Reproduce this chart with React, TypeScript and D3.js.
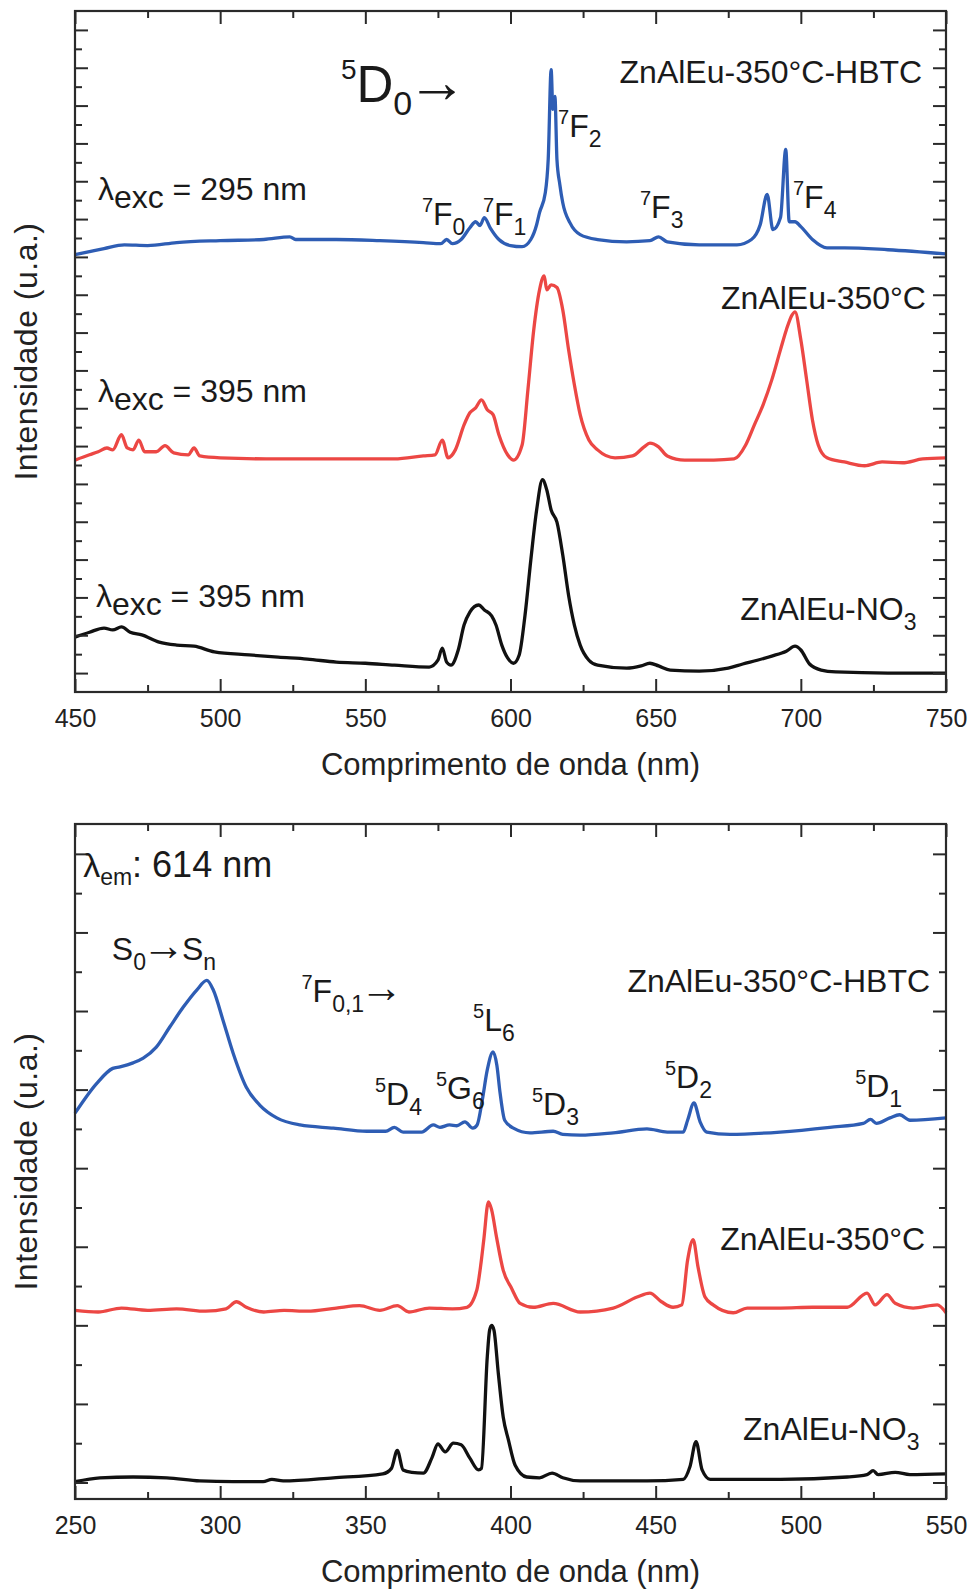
import React, { useEffect, useRef } from 'react';
import * as d3 from 'd3';

type Pt = [number, number];

// Emissão (λexc) — comprimento de onda (nm), intensidade deslocada (u.a.)
const emHbtc: Pt[] = [
  [450, 11.06], [455, 11.14], [460, 11.22], [467, 11.32], [475, 11.3], [485, 11.38], [500, 11.43],
  [515, 11.46], [524, 11.53], [526, 11.46], [540, 11.46], [555, 11.43], [570, 11.38], [576, 11.35],
  [578, 11.46], [580, 11.35], [583, 11.46], [586, 11.77], [588, 11.93], [589.5, 11.83], [591, 12.04],
  [593, 11.77], [596, 11.46], [600, 11.3], [604, 11.27], [607, 11.46], [609, 11.85], [610, 12.17],
  [612, 12.7], [613, 13.6], [614, 15.95], [614.6, 14.9], [615.3, 15.24], [616, 13.57], [617, 12.91],
  [618, 12.43], [620.5, 11.9], [624, 11.59], [630, 11.46], [640, 11.4], [648, 11.43], [651, 11.53],
  [654, 11.4], [665, 11.32], [678, 11.32], [683, 11.46], [686, 11.85], [688.4, 12.65], [690.4, 11.72],
  [693, 12.04], [694.8, 13.84], [696, 11.93], [698, 11.93], [700, 11.8], [704, 11.46], [709, 11.24],
  [715, 11.24], [730, 11.19], [750, 11.08],
];
const emCalc: Pt[] = [
  [450, 5.63], [455, 5.77], [458, 5.85], [461, 5.95], [463, 5.9], [466, 6.3], [468, 5.95], [470, 5.9],
  [472, 6.16], [474, 5.85], [478, 5.85], [481, 6.01], [484, 5.82], [489, 5.77], [491, 5.95], [493, 5.74],
  [500, 5.69], [520, 5.66], [540, 5.66], [560, 5.66], [570, 5.74], [574, 5.77], [576.5, 6.16],
  [578.5, 5.69], [581, 5.9], [584, 6.56], [586, 6.88], [588, 7.01], [590, 7.22], [592, 6.96], [594, 6.83],
  [596, 6.3], [599, 5.77], [601, 5.63], [604, 6.03], [606, 7.49], [608, 9.07], [610, 10.13],
  [611.6, 10.5], [612.5, 10.13], [614, 10.26], [616, 10.19], [618, 9.6], [620, 8.55], [622, 7.62],
  [624, 6.83], [627, 6.16], [630, 5.9], [636, 5.69], [642, 5.74], [646, 5.98], [648, 6.08], [651, 5.98],
  [654, 5.74], [660, 5.63], [670, 5.63], [677, 5.66], [681, 6.03], [684, 6.56], [687, 7.09], [690, 7.75],
  [693, 8.55], [695, 9.07], [697, 9.47], [698, 9.55], [700, 8.81], [702, 7.75], [704, 6.69], [706, 6.03],
  [709, 5.69], [715, 5.58], [722, 5.48], [728, 5.58], [735, 5.56], [742, 5.66], [750, 5.69],
];
const emNo3: Pt[] = [
  [450, 0.95], [455, 1.08], [460, 1.19], [463, 1.14], [466, 1.22], [469, 1.08], [473, 1.01], [479, 0.82],
  [485, 0.74], [491, 0.71], [498, 0.56], [510, 0.48], [520, 0.42], [530, 0.37], [540, 0.29], [550, 0.26],
  [560, 0.21], [572, 0.16], [575, 0.34], [576.5, 0.66], [578, 0.29], [579.5, 0.21], [582, 0.61],
  [584, 1.27], [586, 1.61], [589, 1.8], [591, 1.67], [593.5, 1.51], [595, 1.27], [597, 0.74], [599, 0.4],
  [601, 0.26], [603, 0.48], [605, 1.53], [607, 2.99], [609, 4.31], [611, 5.11], [612.5, 4.84],
  [614, 4.31], [616, 3.99], [618, 3.12], [620, 2.06], [622, 1.27], [624, 0.74], [627, 0.34], [630, 0.21],
  [640, 0.13], [645, 0.19], [648, 0.26], [651, 0.19], [655, 0.08], [665, 0.05], [675, 0.13], [680, 0.24],
  [685, 0.34], [690, 0.45], [695, 0.58], [698, 0.71], [700, 0.61], [703, 0.24], [707, 0.08], [712, 0.03],
  [730, 0.0], [750, 0.0],
];

// Excitação (λem = 614 nm)
const exHbtc: Pt[] = [
  [250, 4.7], [257.5, 5.08], [263, 5.27], [265.5, 5.29], [270, 5.34], [273.5, 5.4], [278, 5.54],
  [282.7, 5.8], [287.3, 6.05], [292, 6.27], [295.4, 6.39], [297.6, 6.27], [301, 5.88], [304.5, 5.46],
  [309, 5.03], [313.7, 4.8], [319.5, 4.64], [327.5, 4.55], [339, 4.51], [350.5, 4.47], [357, 4.47],
  [360, 4.52], [363, 4.46], [369.4, 4.46], [373.4, 4.55], [375.7, 4.52], [379, 4.55], [381.5, 4.54],
  [384.3, 4.59], [387, 4.51], [388.5, 4.55], [390.3, 4.87], [392, 5.25], [394, 5.48], [395.3, 5.31],
  [396.4, 4.96], [398, 4.61], [401, 4.51], [406.7, 4.45], [414.7, 4.47], [418, 4.43], [424, 4.42],
  [435.4, 4.45], [447, 4.5], [454, 4.46], [459.5, 4.46], [461, 4.61], [463.2, 4.83], [465.3, 4.59],
  [467.6, 4.46], [475.6, 4.43], [492.9, 4.46], [510, 4.52], [521.5, 4.57], [524, 4.62], [526, 4.57],
  [530.7, 4.64], [534, 4.68], [537.6, 4.61], [550, 4.64],
];
const exCalc: Pt[] = [
  [250, 2.19], [258, 2.17], [266, 2.22], [275, 2.19], [285, 2.21], [295, 2.18], [302, 2.21],
  [305.6, 2.3], [309, 2.23], [315, 2.17], [322, 2.19], [330, 2.18], [340, 2.22], [348, 2.25],
  [355, 2.19], [361, 2.25], [365, 2.17], [372, 2.22], [380, 2.21], [385, 2.23], [388.4, 2.45],
  [389.9, 2.81], [390.8, 3.09], [392.4, 3.57], [393.5, 3.47], [395.2, 3.12], [397.5, 2.7], [400.4, 2.47],
  [403.3, 2.28], [407.8, 2.23], [414.7, 2.28], [424, 2.17], [435.4, 2.22], [443.6, 2.36], [448, 2.41],
  [452, 2.3], [456, 2.23], [459, 2.26], [461, 2.83], [462.9, 3.09], [464.6, 2.74], [467, 2.36],
  [469.8, 2.26], [476.7, 2.16], [481.5, 2.22], [493, 2.22], [504, 2.23], [516, 2.23], [522.8, 2.41],
  [525.6, 2.26], [529.7, 2.39], [532.5, 2.28], [538.7, 2.22], [547, 2.26], [550, 2.16],
];
const exNo3: Pt[] = [
  [250, 0.01], [258.6, 0.06], [270, 0.07], [281.6, 0.06], [293, 0.02], [304.5, 0.01], [314.8, 0.01],
  [317.8, 0.04], [321.7, 0.02], [339, 0.06], [356, 0.11], [359, 0.18], [361, 0.41], [363, 0.16],
  [366, 0.13], [370, 0.12], [373, 0.32], [375, 0.49], [377.5, 0.39], [380.3, 0.5], [383, 0.48],
  [386, 0.31], [389, 0.16], [390, 0.18], [392, 1.6], [392.8, 1.94], [393.5, 2.0], [394.3, 1.94],
  [395.8, 1.39], [397.5, 0.83], [399.3, 0.54], [401.6, 0.22], [405.6, 0.07], [410, 0.06], [414.3, 0.12],
  [418, 0.06], [424, 0.02], [447, 0.02], [459.5, 0.04], [461.8, 0.2], [463.9, 0.52], [466, 0.16],
  [468.8, 0.04], [493, 0.04], [516, 0.07], [522.8, 0.1], [524.9, 0.15], [526.6, 0.1], [532.5, 0.13],
  [537.6, 0.1], [550, 0.11],
];

const emTicks = [450, 500, 550, 600, 650, 700, 750];
const exTicks = [250, 300, 350, 400, 450, 500, 550];

type Kind = 'n' | 'nt' | 'sup' | 'sub' | 'arr' | 'low' | 'lamL' | 'lowS' | 'numL' | 'bsup' | 'big' | 'bsub' | 'barr';
type Note = { x: number; y: number; anchor?: string; parts: [Kind, string][] };

const fx = (n: string): [Kind, string][] => [['sup', '7'], ['n', 'F'], ['sub', n]];
const lv = (s: string, l: string, n: string): [Kind, string][] => [['sup', s], ['n', l], ['sub', n]];

const emNotes: Note[] = [
  { x: 541.6, y: 15.1, parts: [['bsup', '5'], ['big', 'D'], ['bsub', '0'], ['barr', '→']] },
  { x: 741.8, y: 15.61, anchor: 'end', parts: [['n', 'ZnAlEu-350°C-HBTC']] },
  { x: 457.9, y: 12.51, parts: [['n', 'λ'], ['low', 'exc'], ['n', ' = 295 nm']] },
  { x: 569.5, y: 11.85, parts: fx('0') },
  { x: 590.5, y: 11.85, parts: fx('1') },
  { x: 616.4, y: 14.18, parts: fx('2') },
  { x: 644.6, y: 12.04, parts: fx('3') },
  { x: 697.3, y: 12.3, parts: fx('4') },
  { x: 743.1, y: 9.63, anchor: 'end', parts: [['n', 'ZnAlEu-350°C']] },
  { x: 457.9, y: 7.17, parts: [['n', 'λ'], ['low', 'exc'], ['n', ' = 395 nm']] },
  { x: 457.2, y: 1.75, parts: [['n', 'λ'], ['low', 'exc'], ['n', ' = 395 nm']] },
  { x: 679.1, y: 1.4, parts: [['n', 'ZnAlEu-NO'], ['sub', '3']] },
];

const exNotes: Note[] = [
  { x: 252.8, y: 7.7, parts: [['lamL', 'λ'], ['lowS', 'em'], ['numL', ': 614 nm']] },
  { x: 262.7, y: 6.65, parts: [['n', 'S'], ['sub', '0'], ['arr', '→'], ['nt', 'S'], ['sub', 'n']] },
  { x: 328.0, y: 6.11, parts: [['sup', '7'], ['n', 'F'], ['sub', '0,1'], ['arr', '→']] },
  { x: 387.1, y: 5.74, parts: lv('5', 'L', '6') },
  { x: 353.3, y: 4.8, parts: lv('5', 'D', '4') },
  { x: 374.3, y: 4.88, parts: lv('5', 'G', '6') },
  { x: 407.4, y: 4.68, parts: lv('5', 'D', '3') },
  { x: 453.2, y: 5.02, parts: lv('5', 'D', '2') },
  { x: 518.7, y: 4.9, parts: lv('5', 'D', '1') },
  { x: 544.5, y: 6.24, anchor: 'end', parts: [['n', 'ZnAlEu-350°C-HBTC']] },
  { x: 542.8, y: 2.96, anchor: 'end', parts: [['n', 'ZnAlEu-350°C']] },
  { x: 480.1, y: 0.54, parts: [['n', 'ZnAlEu-NO'], ['sub', '3']] },
];

const kinds: Record<Kind, { size: number; shift: number; dx?: number }> = {
  n: { size: 32, shift: 0 },
  nt: { size: 32, shift: 0, dx: -3 },
  sup: { size: 20, shift: -13 },
  sub: { size: 23, shift: 10 },
  arr: { size: 43, shift: 0, dx: -4 },
  low: { size: 32, shift: 8 },
  lamL: { size: 34, shift: 0 },
  lowS: { size: 23, shift: 8 },
  numL: { size: 36, shift: 0 },
  bsup: { size: 28, shift: -23 },
  big: { size: 51, shift: 0 },
  bsub: { size: 34, shift: 13 },
  barr: { size: 60, shift: 0, dx: -5 },
};

const FONT = '"Liberation Sans", Arial, Helvetica, sans-serif';
const LEFT = 75;
const RIGHT = 946;
const BLUE = '#2e5db4';
const RED = '#ec4744';
const BLACK = '#111111';
const AXIS = '#2a2a2a';

interface PanelCfg {
  top: number;
  bottom: number;
  xDomain: [number, number];
  yDomain: [number, number];
  xTicks: number[];
  series: { data: Pt[]; color: string }[];
  notes: Note[];
}

function drawPanel(svg: d3.Selection<SVGSVGElement, unknown, null, undefined>, cfg: PanelCfg) {
  const { top, bottom, xDomain, yDomain, xTicks, series, notes } = cfg;
  const x = d3.scaleLinear().domain(xDomain).range([LEFT, RIGHT]);
  const y = d3.scaleLinear().domain(yDomain).range([bottom, top]);
  const g = svg.append('g');

  // curvas
  const line = d3.line<Pt>()
    .x(d => x(d[0]))
    .y(d => y(d[1]))
    .curve(d3.curveMonotoneX);

  series.forEach(s => {
    g.append('path')
      .datum(s.data)
      .attr('fill', 'none')
      .attr('stroke', s.color)
      .attr('stroke-width', 3.3)
      .attr('stroke-linejoin', 'round')
      .attr('d', line);
  });

  // ticks
  const xMinor = d3.range(xDomain[0] + 25, xDomain[1], 50);
  const yMajor = d3.range(Math.ceil(yDomain[0]), yDomain[1], 1);
  const yMinor = d3.range(Math.ceil(yDomain[0] - 0.5) + 0.5, yDomain[1], 1).filter(v => v > yDomain[0]);

  const styleAxis = (sel: d3.Selection<SVGGElement, unknown, null, undefined>) => {
    sel.select('.domain').remove();
    sel.selectAll('line').attr('stroke', AXIS).attr('stroke-width', 2);
    sel.selectAll('text')
      .attr('fill', '#222')
      .style('font-family', FONT)
      .style('font-size', '25px');
  };

  g.append('g')
    .attr('transform', `translate(0,${bottom})`)
    .call(d3.axisBottom(x).tickValues(xTicks).tickSize(-13).tickPadding(17).tickFormat(d3.format('d')))
    .call(styleAxis);
  g.append('g')
    .attr('transform', `translate(0,${bottom})`)
    .call(d3.axisBottom(x).tickValues(xMinor).tickSize(-7).tickFormat(() => ''))
    .call(styleAxis);
  g.append('g')
    .attr('transform', `translate(0,${top})`)
    .call(d3.axisTop(x).tickValues(xTicks).tickSize(-13).tickFormat(() => ''))
    .call(styleAxis);
  g.append('g')
    .attr('transform', `translate(0,${top})`)
    .call(d3.axisTop(x).tickValues(xMinor).tickSize(-7).tickFormat(() => ''))
    .call(styleAxis);

  [[d3.axisLeft, LEFT], [d3.axisRight, RIGHT]].forEach(([axisFn, pos]: any) => {
    g.append('g')
      .attr('transform', `translate(${pos},0)`)
      .call(axisFn(y).tickValues(yMajor).tickSize(-13).tickFormat(() => ''))
      .call(styleAxis);
    g.append('g')
      .attr('transform', `translate(${pos},0)`)
      .call(axisFn(y).tickValues(yMinor).tickSize(-7).tickFormat(() => ''))
      .call(styleAxis);
  });

  // moldura
  g.append('rect')
    .attr('x', LEFT)
    .attr('y', top)
    .attr('width', RIGHT - LEFT)
    .attr('height', bottom - top)
    .attr('fill', 'none')
    .attr('stroke', AXIS)
    .attr('stroke-width', 2.2);

  // títulos
  g.append('text')
    .attr('x', (LEFT + RIGHT) / 2)
    .attr('y', bottom + 83)
    .attr('text-anchor', 'middle')
    .style('font-family', FONT)
    .style('font-size', '31px')
    .attr('fill', '#222')
    .text('Comprimento de onda (nm)');

  g.append('text')
    .attr('transform', `translate(37,${(top + bottom) / 2}) rotate(-90)`)
    .attr('text-anchor', 'middle')
    .style('font-family', FONT)
    .style('font-size', '32px')
    .style('letter-spacing', '0.5px')
    .attr('fill', '#222')
    .text('Intensidade (u.a.)');

  // anotações
  notes.forEach(n => {
    const t = g.append('text')
      .attr('x', x(n.x))
      .attr('y', y(n.y))
      .attr('text-anchor', n.anchor || 'start')
      .style('font-family', FONT)
      .style('white-space', 'pre')
      .attr('fill', '#1a1a1a');
    let cur = 0;
    n.parts.forEach(([k, txt]) => {
      const spec = kinds[k];
      t.append('tspan')
        .attr('dx', spec.dx || 0)
        .attr('dy', spec.shift - cur)
        .style('font-size', `${spec.size}px`)
        .text(txt);
      cur = spec.shift;
    });
  });
}

export default function App() {
  const svgRef = useRef<SVGSVGElement>(null);

  useEffect(() => {
    if (!svgRef.current) return;
    const svg = d3.select(svgRef.current);
    svg.selectAll('*').remove();

    drawPanel(svg, {
      top: 11,
      bottom: 692,
      xDomain: [450, 750],
      yDomain: [-0.5, 17.5],
      xTicks: emTicks,
      series: [
        { data: emHbtc, color: BLUE },
        { data: emCalc, color: RED },
        { data: emNo3, color: BLACK },
      ],
      notes: emNotes,
    });

    drawPanel(svg, {
      top: 824,
      bottom: 1499,
      xDomain: [250, 550],
      yDomain: [-0.21, 8.38],
      xTicks: exTicks,
      series: [
        { data: exHbtc, color: BLUE },
        { data: exCalc, color: RED },
        { data: exNo3, color: BLACK },
      ],
      notes: exNotes,
    });
  }, []);

  return (
    <div style={{ position: 'absolute', left: 0, top: 0, background: '#fff' }}>
      <svg ref={svgRef} width={971} height={1590} style={{ display: 'block' }}></svg>
    </div>
  );
}
